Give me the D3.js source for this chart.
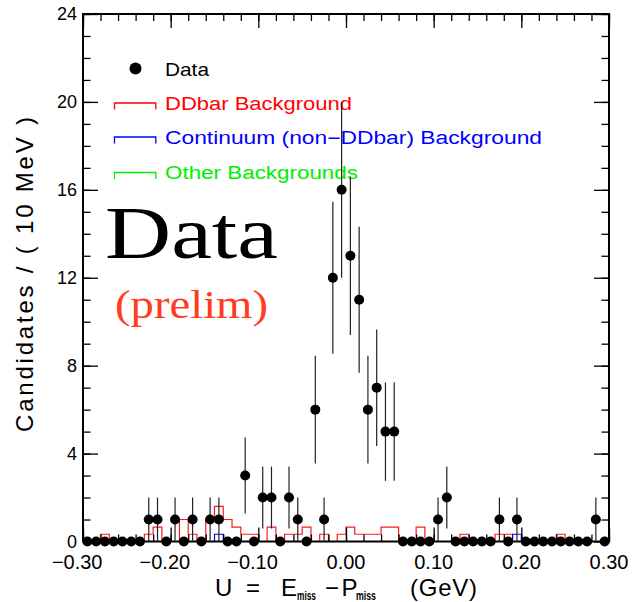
<!DOCTYPE html>
<html>
<head>
<meta charset="utf-8">
<script src="https://cdn.jsdelivr.net/npm/d3@7"></script>
<style>
  body { margin: 0; background: #fff; }
  svg { display: block; font-family: "Liberation Sans", Arial, sans-serif; }
  .serif { font-family: "Liberation Serif", "Times New Roman", serif; }
</style>
</head>
<body>
<svg id="chart"></svg>
<script>
// binning: 60 bins of 10 MeV from -0.30 to 0.30 GeV
const xLow = -0.30, xHigh = 0.30, nBins = 60;

const dataCounts = [
  0, 0, 0, 0, 0, 0, 0, 1, 1, 0,
  1, 0, 1, 0, 1, 1, 0, 0, 3, 0,
  2, 2, 0, 2, 1, 0, 6, 1, 12, 16,
  13, 11, 6, 7, 5, 5, 0, 0, 0, 0,
  1, 2, 0, 0, 0, 0, 0, 1, 0, 1,
  0, 0, 0, 0, 0, 0, 0, 0, 1, 0
];
const dataErrors = [
  0, 0, 0, 0, 0, 0, 0, 1, 1, 0,
  1, 0, 1, 0, 1, 1, 0, 0, 1.73, 0,
  1.41, 1.41, 0, 1.41, 1, 0, 2.45, 1, 3.46, 4,
  3.61, 3.32, 2.45, 2.65, 2.24, 2.24, 0, 0, 0, 0,
  1, 1.41, 0, 0, 0, 0, 0, 1, 0, 1,
  0, 0, 0, 0, 0, 0, 0, 0, 1, 0
];
const ddbarBkg = [
  0, 0, 0.33, 0, 0, 0, 0, 0.33, 0.65, 0,
  0, 1, 0.33, 0, 1, 1.6, 1, 0.65, 0.33, 0.33,
  0, 0.65, 0, 0.33, 0.33, 0.65, 0, 0.33, 0, 0.33,
  0.65, 0.33, 0.33, 0.33, 0.65, 0.65, 0, 0, 0.65, 0,
  0, 0, 0, 0.33, 0, 0, 0, 0.33, 0.33, 0,
  0, 0, 0, 0, 0.33, 0, 0, 0, 0, 0
];
const continuumBkg = [
  0, 0, 0, 0, 0, 0, 0, 0, 0, 0,
  0, 0, 0, 0, 0, 0.33, 0, 0, 0, 0,
  0, 0, 0, 0, 0, 0, 0, 0, 0, 0,
  0, 0, 0, 0, 0, 0, 0, 0, 0, 0,
  0, 0, 0, 0, 0, 0, 0, 0, 0, 0.33,
  0, 0, 0, 0, 0, 0, 0, 0, 0, 0
];
const otherBkg = [
  0, 0, 0, 0, 0, 0, 0, 0, 0, 0,
  0, 0, 0, 0, 0, 0, 0, 0, 0, 0,
  0, 0, 0, 0, 0, 0, 0, 0, 0, 0,
  0, 0, 0, 0, 0, 0, 0, 0, 0, 0,
  0, 0, 0, 0, 0, 0, 0, 0, 0, 0,
  0, 0, 0, 0, 0, 0, 0, 0, 0, 0
];

const xTickValues = [-0.30, -0.20, -0.10, 0.00, 0.10, 0.20, 0.30];
const yTickValues = [0, 4, 8, 12, 16, 20, 24];

const legendItems = [
  { label: "DDbar Background", color: "#ff0000", len: 187 },
  { label: "Continuum (non\u2212DDbar) Background", color: "#0000ff", len: 377 },
  { label: "Other Backgrounds", color: "#00ee00", len: 193 }
];

const width = 633, height = 602;
const plot = { left: 83, right: 609, top: 14, bottom: 541.5 };

const svg = d3.select("#chart")
    .attr("width", width)
    .attr("height", height);

const x = d3.scaleLinear().domain([xLow, xHigh]).range([plot.left, plot.right]);
const y = d3.scaleLinear().domain([0, 24]).range([plot.bottom, plot.top]);

const binWidth = (xHigh - xLow) / nBins;
const edges = d3.range(nBins + 1).map(i => xLow + i * binWidth);
const centers = d3.range(nBins).map(i => xLow + (i + 0.5) * binWidth);

// histogram outlines (background MC)
const stepLine = d3.line()
    .x(d => x(d[0]))
    .y(d => y(d[1]))
    .curve(d3.curveStepAfter);

const stepPoints = vals => {
    const pts = [[edges[0], 0]];
    vals.forEach((v, i) => pts.push([edges[i], v]));
    pts.push([edges[nBins], vals[nBins - 1]]);
    pts.push([edges[nBins], 0]);
    return pts;
};

[[otherBkg, "#00ee00"], [ddbarBkg, "#ff1a1a"], [continuumBkg, "#0000ff"]].forEach(([vals, col]) => {
    svg.append("path")
        .attr("d", stepLine(stepPoints(vals)))
        .attr("fill", "none")
        .attr("stroke", col)
        .attr("stroke-width", 1.2);
});

// axes ticks, PAW style (inside the frame, on all four sides)
const xMinor = d3.range(-0.30, 0.3001, 0.02);
const yMinor = d3.range(0, 25, 1);

const tickAxis = (axis, transform) => {
    const g = svg.append("g").attr("transform", transform).call(axis);
    g.select(".domain").remove();
    g.selectAll("line").attr("stroke", "#000").attr("stroke-width", 1.3);
    g.selectAll("text").remove();
};

tickAxis(d3.axisBottom(x).tickValues(xMinor).tickSize(-7), `translate(0,${plot.bottom})`);
tickAxis(d3.axisBottom(x).tickValues(xTickValues).tickSize(-14), `translate(0,${plot.bottom})`);
tickAxis(d3.axisTop(x).tickValues(xMinor).tickSize(-7), `translate(0,${plot.top})`);
tickAxis(d3.axisTop(x).tickValues(xTickValues).tickSize(-14), `translate(0,${plot.top})`);
tickAxis(d3.axisLeft(y).tickValues(yMinor).tickSize(-7.5), `translate(${plot.left},0)`);
tickAxis(d3.axisLeft(y).tickValues(yTickValues).tickSize(-15), `translate(${plot.left},0)`);
tickAxis(d3.axisRight(y).tickValues(yMinor).tickSize(-7.5), `translate(${plot.right},0)`);
tickAxis(d3.axisRight(y).tickValues(yTickValues).tickSize(-15), `translate(${plot.right},0)`);

svg.append("rect")
    .attr("x", plot.left)
    .attr("y", plot.top)
    .attr("width", plot.right - plot.left)
    .attr("height", plot.bottom - plot.top)
    .attr("fill", "none")
    .attr("stroke", "#000")
    .attr("stroke-width", 2);

// tick labels: the number is centred on the tick, the minus sign hangs left
svg.append("g").selectAll("text")
    .data(xTickValues)
    .enter().append("text")
    .attr("x", d => x(d) + 19.5)
    .attr("y", 569)
    .attr("text-anchor", "end")
    .attr("font-size", 20)
    .text(d => (d < 0 ? "\u2212" : "") + Math.abs(d).toFixed(2));

svg.append("g").selectAll("text")
    .data(yTickValues)
    .enter().append("text")
    .attr("x", 77)
    .attr("y", d => y(d))
    .attr("dy", "0.36em")
    .attr("text-anchor", "end")
    .attr("font-size", 18)
    .text(d => d);

// axis titles
svg.append("text")
    .attr("transform", "translate(33,274.5) rotate(-90)")
    .attr("text-anchor", "middle")
    .attr("font-size", 24)
    .attr("textLength", 315)
    .attr("lengthAdjust", "spacing")
    .text("Candidates / ( 10 MeV )");

const xTitle = svg.append("text").attr("y", 596).attr("font-size", 24);
xTitle.append("tspan").attr("x", 215).text("U");
xTitle.append("tspan").attr("x", 246).text("=");
xTitle.append("tspan").attr("x", 281).text("E");
xTitle.append("tspan").attr("x", 297).attr("dy", 4).attr("font-size", 12).attr("font-weight", "bold")
    .attr("textLength", 19).attr("lengthAdjust", "spacingAndGlyphs").text("miss");
xTitle.append("tspan").attr("x", 325).attr("dy", -4).text("\u2212");
xTitle.append("tspan").attr("x", 341.5).text("P");
xTitle.append("tspan").attr("x", 356).attr("dy", 4).attr("font-size", 12).attr("font-weight", "bold")
    .attr("textLength", 20).attr("lengthAdjust", "spacingAndGlyphs").text("miss");
xTitle.append("tspan").attr("x", 410).attr("dy", -4).attr("textLength", 67).attr("lengthAdjust", "spacing").text("(GeV)");

// big overlay labels
svg.append("text")
    .attr("class", "serif")
    .attr("x", 105)
    .attr("y", 258)
    .attr("font-size", 75)
    .attr("textLength", 173)
    .attr("lengthAdjust", "spacingAndGlyphs")
    .attr("fill", "#000")
    .text("Data");

svg.append("text")
    .attr("class", "serif")
    .attr("x", 115)
    .attr("y", 317.5)
    .attr("font-size", 40)
    .attr("textLength", 153)
    .attr("lengthAdjust", "spacingAndGlyphs")
    .attr("fill", "#ff3c1e")
    .text("(prelim)");

// legend
svg.append("circle").attr("cx", 135.5).attr("cy", 68.5).attr("r", 6).attr("fill", "#000");
svg.append("text")
    .attr("x", 165).attr("y", 76)
    .attr("font-size", 19)
    .attr("textLength", 44)
    .attr("lengthAdjust", "spacingAndGlyphs")
    .text("Data");

const legendRows = [103, 137, 172.5];
legendItems.forEach((item, i) => {
    const top = legendRows[i];
    svg.append("path")
        .attr("d", `M114.5,${top + 6.5}V${top}H155.8V${top + 6.5}`)
        .attr("fill", "none")
        .attr("stroke", item.color)
        .attr("stroke-width", 1.3);
    svg.append("text")
        .attr("x", 165)
        .attr("y", top + 6.5)
        .attr("font-size", 18)
        .attr("fill", item.color)
        .attr("textLength", item.len)
        .attr("lengthAdjust", "spacingAndGlyphs")
        .text(item.label);
});

// data points with error bars
const points = centers.map((c, i) => ({ x: c, v: dataCounts[i], e: dataErrors[i] }));

svg.append("g").selectAll("line")
    .data(points.filter(d => d.e > 0))
    .enter().append("line")
    .attr("x1", d => x(d.x))
    .attr("x2", d => x(d.x))
    .attr("y1", d => y(d.v - d.e))
    .attr("y2", d => y(d.v + d.e))
    .attr("stroke", "#222")
    .attr("stroke-width", 1.2);

svg.append("g").selectAll("circle")
    .data(points)
    .enter().append("circle")
    .attr("cx", d => x(d.x))
    .attr("cy", d => y(d.v))
    .attr("r", 5)
    .attr("fill", "#000");
</script>
</body>
</html>
